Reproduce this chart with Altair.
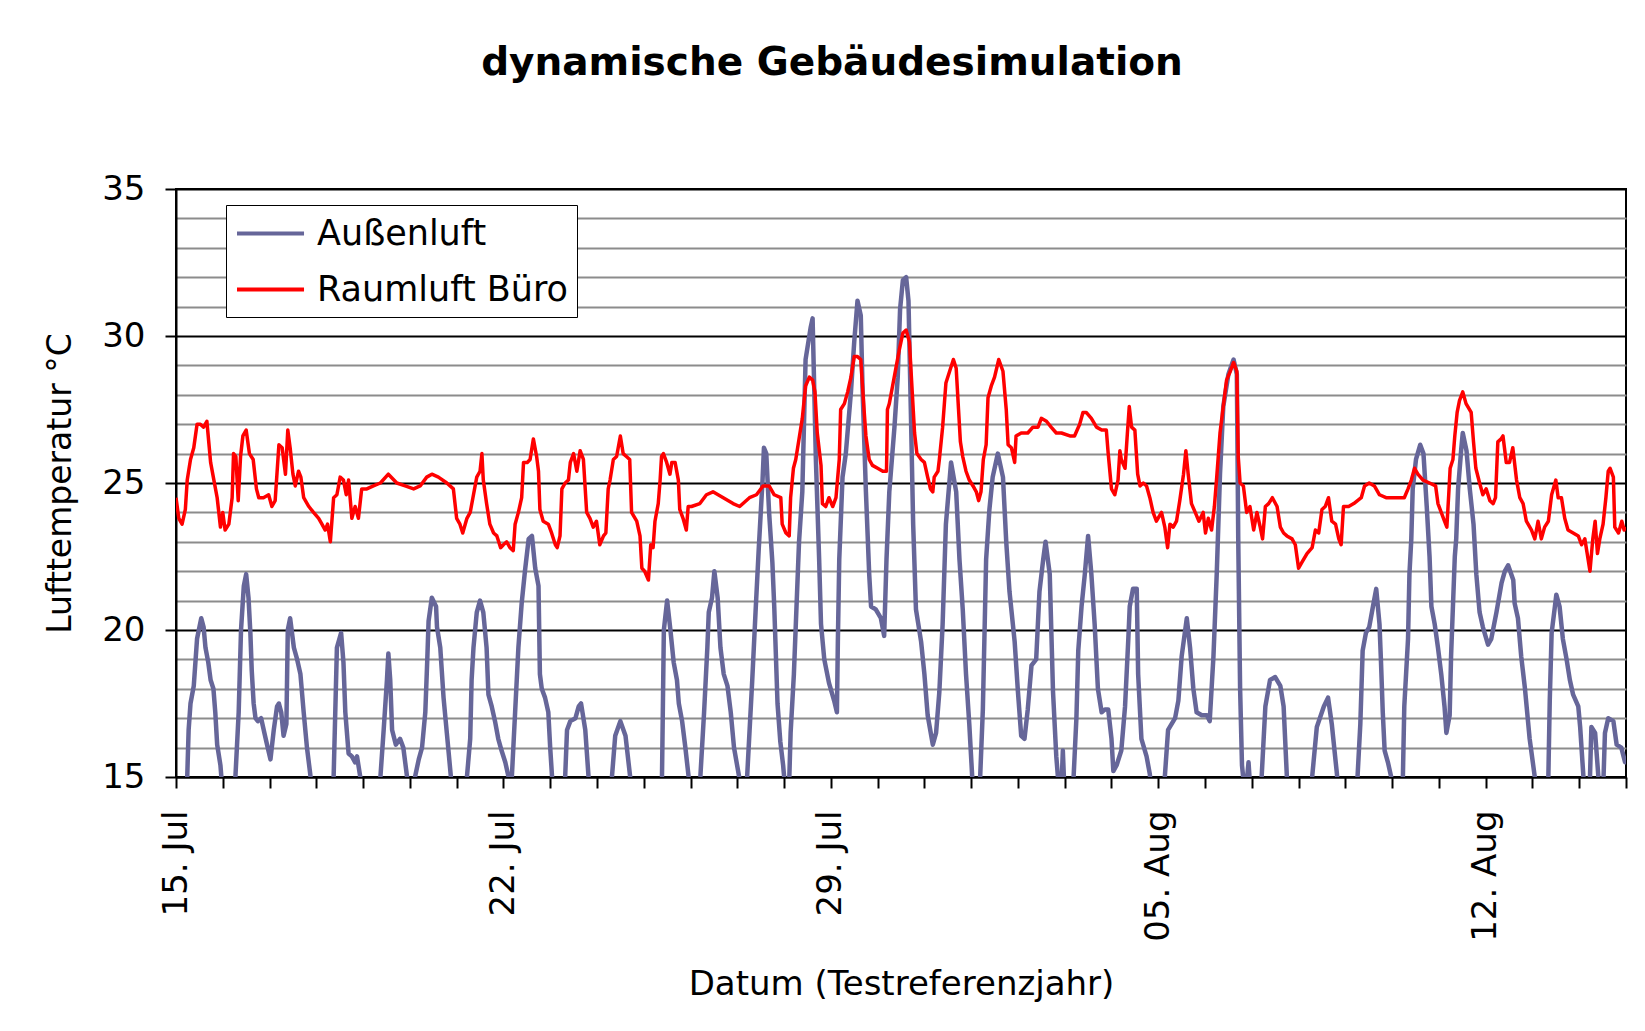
import altair as alt
import pandas as pd

TITLE = "dynamische Gebäudesimulation"
X_TITLE = "Datum (Testreferenzjahr)"
Y_TITLE = "Lufttemperatur °C"
SERIES = ["Außenluft", "Raumluft Büro"]
COLORS = ["#666699", "#ff0000"]

TICK_DAYS = [0, 7, 14, 21, 28]
TICK_LABELS = ["15. Jul", "22. Jul", "29. Jul", "05. Aug", "12. Aug"]

# Außenluft: day offset from 15 Jul 0:00, temperature in °C (values below 15 are cut by the axis)
AUSSEN_DAY = [
    0.00, 0.20, 0.24, 0.27, 0.31, 0.38, 0.45, 0.54, 0.59, 0.63, 0.69, 0.74, 0.80, 0.84, 0.88, 0.95, 0.99,
    1.10, 1.25, 1.27, 1.34, 1.39, 1.45, 1.50, 1.55, 1.59, 1.62, 1.66, 1.70, 1.75, 1.82, 1.89, 1.96, 2.02,
    2.09, 2.16, 2.20, 2.25, 2.30, 2.36, 2.39, 2.44, 2.52, 2.59, 2.66, 2.73, 2.80, 2.87, 2.92,
    3.20, 3.35, 3.37, 3.44, 3.53, 3.58, 3.62, 3.69, 3.76, 3.83, 3.87, 3.94, 3.98,
    4.20, 4.35, 4.37, 4.44, 4.51, 4.54, 4.58, 4.62, 4.70, 4.79, 4.86, 4.94, 4.98,
    5.08, 5.11, 5.19, 5.26, 5.33, 5.37, 5.40, 5.47, 5.56, 5.58, 5.65, 5.72, 5.79, 5.86, 5.90,
    6.15, 6.22, 6.29, 6.32, 6.36, 6.43, 6.50, 6.57, 6.64, 6.68, 6.75, 6.82, 6.89, 6.96, 7.04, 7.11, 7.14,
    7.16, 7.18, 7.25, 7.32, 7.39, 7.46, 7.54, 7.61, 7.68, 7.75, 7.78, 7.82, 7.89, 7.96, 8.00, 8.04, 8.07,
    8.28, 8.32, 8.36, 8.43, 8.54, 8.61, 8.66, 8.75, 8.82, 8.86,
    9.28, 9.32, 9.39, 9.50, 9.61, 9.71, 9.75,
    10.35, 10.39, 10.43, 10.50, 10.57, 10.64, 10.71, 10.75, 10.82, 10.89, 10.96, 11.00,
    11.17, 11.21, 11.29, 11.36, 11.39, 11.46, 11.51, 11.58, 11.64, 11.71, 11.79, 11.86, 11.93, 12.04, 12.08,
    12.17, 12.21, 12.32, 12.39, 12.46, 12.54, 12.57, 12.62, 12.68, 12.75, 12.79, 12.86, 12.92, 12.98, 13.04,
    13.10, 13.14, 13.21, 13.32, 13.39, 13.46, 13.57, 13.61, 13.68, 13.75, 13.79, 13.86, 13.96, 14.07, 14.13,
    14.15, 14.18, 14.25, 14.32, 14.43, 14.50, 14.57, 14.64, 14.68, 14.75, 14.82, 14.86, 14.96, 15.07, 15.14,
    15.19, 15.25, 15.36, 15.43, 15.48, 15.54, 15.61, 15.66, 15.71, 15.76, 15.82, 15.93, 16.00, 16.07, 16.18,
    16.25, 16.32, 16.39, 16.46, 16.57, 16.68, 16.75, 16.82, 16.89, 16.96, 17.04,
    17.18, 17.25, 17.32, 17.39, 17.46, 17.57, 17.68, 17.75, 17.82, 17.93, 18.00, 18.07, 18.14,
    18.21, 18.29, 18.39, 18.46, 18.54, 18.59, 18.68, 18.75, 18.82, 18.89, 18.93, 18.96, 19.00,
    19.16, 19.19, 19.25, 19.29, 19.36, 19.43, 19.50, 19.57, 19.64, 19.71, 19.79, 19.86, 19.93, 20.00, 20.04,
    20.11, 20.21, 20.29, 20.36, 20.39, 20.46, 20.54, 20.57, 20.64, 20.75, 20.82, 20.86,
    21.10, 21.14, 21.21, 21.36, 21.43, 21.50, 21.61, 21.68, 21.75, 21.82, 21.93, 22.04, 22.10,
    22.18, 22.25, 22.32, 22.39, 22.50, 22.61, 22.68, 22.71, 22.75, 22.79, 22.86, 22.93, 22.98,
    23.19, 23.21, 23.29, 23.39, 23.50, 23.61, 23.68, 23.75, 23.79,
    24.25, 24.29, 24.39, 24.54, 24.63, 24.71, 24.82, 24.86,
    25.22, 25.26, 25.32, 25.37, 25.44, 25.51, 25.59, 25.66, 25.73, 25.76, 25.80, 25.84, 25.91, 25.98, 26.02,
    26.20, 26.23, 26.26, 26.34, 26.37, 26.41, 26.44, 26.51, 26.60, 26.67, 26.74, 26.80, 26.84, 26.91, 26.98,
    27.05, 27.12, 27.16, 27.23, 27.26, 27.34, 27.37, 27.41, 27.48, 27.51, 27.59, 27.66, 27.74, 27.80, 27.87,
    27.94, 28.05, 28.12, 28.23, 28.34, 28.41, 28.48, 28.59, 28.62, 28.69, 28.76, 28.84, 28.94, 29.05, 29.09,
    29.30, 29.34, 29.37, 29.41, 29.48, 29.51, 29.58, 29.65, 29.73, 29.80, 29.87, 29.98, 30.02, 30.09, 30.12,
    30.20, 30.23, 30.26, 30.34, 30.41, 30.45, 30.50, 30.52, 30.55, 30.62, 30.73, 30.80, 30.90, 30.98, 31.00,
]
AUSSEN_TEMP = [
    14.0, 14.0, 15.0, 16.6, 17.5, 18.1, 19.7, 20.4, 20.1, 19.4, 18.9, 18.3, 18.0, 17.2, 16.1, 15.4, 14.6,
    14.0, 14.3, 15.0, 17.2, 20.0, 21.5, 21.9, 21.1, 19.9, 18.6, 17.5, 17.0, 16.9, 17.0, 16.5, 16.0, 15.6,
    16.6, 17.4, 17.5, 17.2, 16.4, 16.8, 20.0, 20.4, 19.4, 19.0, 18.5, 17.2, 16.0, 15.1, 14.2,
    14.0, 14.3, 15.0, 19.4, 19.9, 18.9, 17.2, 15.8, 15.7, 15.5, 15.7, 15.0, 14.2,
    14.0, 14.4, 15.0, 16.6, 18.3, 19.2, 18.3, 16.6, 16.1, 16.3, 16.0, 15.0, 14.5,
    14.5, 15.0, 15.6, 16.0, 17.2, 18.9, 20.3, 21.1, 20.8, 20.1, 19.4, 17.7, 16.5, 15.3, 14.6,
    14.3, 15.0, 16.3, 18.3, 19.4, 20.6, 21.0, 20.6, 19.4, 17.8, 17.4, 16.9, 16.3, 15.9, 15.5, 15.0, 14.5,
    14.5, 15.0, 17.2, 19.4, 20.9, 22.0, 23.1, 23.2, 22.1, 21.5, 18.5, 18.0, 17.7, 17.2, 16.0, 15.0, 14.3,
    14.3, 15.0, 16.6, 16.9, 17.0, 17.4, 17.5, 16.6, 15.0, 14.3,
    14.3, 15.0, 16.4, 16.9, 16.4, 15.0, 14.3,
    14.3, 15.0, 20.0, 21.0, 20.0, 18.9, 18.3, 17.5, 16.9, 16.0, 15.0, 14.3,
    14.3, 15.0, 17.2, 19.4, 20.6, 21.1, 22.0, 21.1, 19.4, 18.5, 18.1, 17.2, 16.0, 15.0, 14.3,
    14.3, 15.0, 18.3, 20.6, 22.8, 25.1, 26.2, 26.0, 24.0, 22.3, 20.8, 17.5, 16.2, 15.4, 14.3,
    14.3, 16.5, 18.5, 23.0, 24.7, 29.2, 30.3, 30.6, 25.8, 22.4, 20.2, 19.0, 18.2, 17.6, 17.2,
    19.6, 22.4, 25.2, 26.0, 28.1, 29.8, 31.2, 30.7, 28.1, 24.7, 21.9, 20.8, 20.7, 20.4, 19.8,
    22.4, 24.7, 26.9, 28.6, 30.9, 31.9, 32.0, 31.2, 27.5, 23.6, 20.7, 19.6, 18.5, 17.1, 16.1,
    16.5, 17.9, 20.2, 23.6, 25.7, 24.7, 22.4, 20.7, 18.5, 16.8, 14.5,
    14.5, 17.3, 22.4, 24.1, 25.2, 26.0, 25.2, 23.0, 21.3, 19.6, 17.9, 16.4, 16.3,
    17.3, 18.8, 19.0, 21.3, 22.4, 23.0, 21.9, 17.9, 15.7, 14.3, 14.6, 15.9, 14.3,
    14.3, 15.0, 17.0, 19.3, 20.8, 21.9, 23.2, 21.9, 20.2, 18.0, 17.2, 17.3, 17.3, 16.3, 15.2,
    15.4, 15.9, 17.4, 19.7, 20.8, 21.4, 21.4, 18.5, 16.3, 15.7, 15.1, 14.3,
    14.3, 15.0, 16.6, 17.0, 17.6, 19.1, 20.4, 19.4, 18.0, 17.2, 17.1, 17.1, 16.9,
    19.1, 21.9, 25.3, 27.6, 28.7, 29.2, 28.7, 23.1, 18.0, 15.4, 14.3, 15.5, 14.3,
    14.3, 15.0, 17.4, 18.3, 18.4, 18.1, 17.4, 15.0, 14.3,
    14.3, 15.0, 16.7, 17.4, 17.7, 16.8, 15.1, 14.3,
    14.3, 15.0, 16.8, 19.3, 19.9, 20.1, 20.8, 21.4, 20.2, 19.0, 17.2, 15.9, 15.5, 15.0, 14.3,
    14.3, 15.0, 17.4, 19.7, 21.9, 23.1, 24.8, 25.8, 26.3, 26.0, 24.2, 22.5, 20.8, 20.2, 19.4,
    18.5, 17.4, 16.5, 17.1, 19.1, 22.5, 23.1, 24.8, 26.2, 26.7, 26.1, 24.8, 23.6, 21.9, 20.6,
    20.1, 19.5, 19.7, 20.6, 21.6, 22.0, 22.2, 21.7, 20.9, 20.4, 19.1, 18.0, 16.3, 15.0, 14.3,
    14.3, 15.0, 17.6, 19.9, 20.8, 21.2, 20.8, 19.7, 19.0, 18.3, 17.8, 17.4, 16.7, 15.0, 14.3,
    14.3, 15.0, 16.7, 16.5, 15.0, 14.5, 14.5, 15.0, 16.5, 17.0, 16.9, 16.1, 16.0, 15.5, 15.5,
]

# Raumluft Büro
RAUM_DAY = [
    0.00, 0.06, 0.13, 0.20, 0.24, 0.31, 0.38, 0.45, 0.52, 0.59, 0.66, 0.74, 0.81, 0.88, 0.95, 1.00, 1.05,
    1.13, 1.20, 1.23, 1.28, 1.33, 1.38, 1.43, 1.50, 1.57, 1.65, 1.72, 1.77, 1.87, 1.98, 2.05, 2.12, 2.20,
    2.27, 2.34, 2.39, 2.44, 2.50, 2.55, 2.62, 2.67, 2.73, 2.84, 2.94, 3.05, 3.12, 3.19, 3.24, 3.30, 3.37,
    3.44, 3.51, 3.58, 3.64, 3.69, 3.76, 3.83, 3.90, 3.97, 4.08, 4.22, 4.37, 4.54, 4.72, 4.90, 5.08, 5.22,
    5.36, 5.47, 5.61, 5.79, 5.93, 6.00, 6.07, 6.13, 6.22, 6.29, 6.36, 6.43, 6.50, 6.54, 6.57, 6.64, 6.71,
    6.79, 6.86, 6.94, 7.00, 7.07, 7.14, 7.21, 7.25, 7.32, 7.39, 7.43, 7.51, 7.57, 7.64, 7.71, 7.75, 7.78,
    7.85, 7.96, 8.03, 8.11, 8.15, 8.21, 8.25, 8.32, 8.39, 8.43, 8.50, 8.57, 8.64, 8.71, 8.78, 8.85, 8.92,
    8.99, 9.06, 9.14, 9.19, 9.24, 9.28, 9.35, 9.42, 9.50, 9.56, 9.63, 9.70, 9.74, 9.85, 9.92, 9.96, 10.02,
    10.10, 10.15, 10.20, 10.24, 10.31, 10.35, 10.38, 10.42, 10.49, 10.56, 10.60, 10.67, 10.74, 10.77, 10.84,
    10.91, 10.95, 11.02, 11.20, 11.34, 11.48, 11.70, 11.91, 12.05, 12.26, 12.41, 12.55, 12.68, 12.79, 12.93,
    12.96, 13.04, 13.11, 13.14, 13.20, 13.25, 13.32, 13.39, 13.46, 13.54, 13.61, 13.66, 13.71, 13.79, 13.82,
    13.89, 13.96, 14.04, 14.11, 14.18, 14.21, 14.29, 14.36, 14.43, 14.50, 14.57, 14.64, 14.71, 14.75, 14.82,
    14.89, 15.00, 15.11, 15.19, 15.21, 15.25, 15.32, 15.39, 15.46, 15.54, 15.61, 15.68, 15.74, 15.79, 15.84,
    15.93, 16.00, 16.07, 16.13, 16.18, 16.21, 16.29, 16.32, 16.39, 16.46, 16.54, 16.62, 16.68, 16.73, 16.77,
    16.82, 16.89, 16.96, 17.04, 17.11, 17.16, 17.21, 17.26, 17.32, 17.36, 17.43, 17.50, 17.59, 17.68, 17.75,
    17.79, 17.86, 17.93, 17.96, 18.07, 18.21, 18.32, 18.43, 18.50, 18.61, 18.71, 18.82, 18.93, 19.11, 19.21,
    19.32, 19.39, 19.46, 19.57, 19.68, 19.79, 19.89, 19.93, 20.00, 20.07, 20.14, 20.18, 20.21, 20.29, 20.34,
    20.38, 20.43, 20.50, 20.56, 20.61, 20.68, 20.75, 20.82, 20.89, 20.96, 21.07, 21.14, 21.20, 21.25, 21.32,
    21.39, 21.46, 21.54, 21.59, 21.64, 21.71, 21.79, 21.87, 21.96, 22.01, 22.07, 22.14, 22.20, 22.25, 22.32,
    22.39, 22.46, 22.54, 22.61, 22.68, 22.71, 22.75, 22.82, 22.89, 22.96, 23.04, 23.11, 23.18, 23.23, 23.29,
    23.36, 23.44, 23.54, 23.61, 23.68, 23.75, 23.86, 23.93, 24.00, 24.07, 24.18, 24.29, 24.36, 24.43, 24.50,
    24.57, 24.64, 24.71, 24.79, 24.86, 24.91, 24.96, 25.07, 25.18, 25.34, 25.41, 25.51, 25.62, 25.73, 25.87,
    26.01, 26.16, 26.26, 26.34, 26.41, 26.48, 26.55, 26.66, 26.80, 26.93, 26.98, 27.05, 27.12, 27.17, 27.21,
    27.24, 27.30, 27.34, 27.39, 27.44, 27.51, 27.58, 27.69, 27.74, 27.79, 27.87, 27.94, 28.01, 28.09, 28.16,
    28.21, 28.26, 28.33, 28.37, 28.44, 28.51, 28.58, 28.66, 28.73, 28.80, 28.87, 28.98, 29.05, 29.12, 29.19,
    29.26, 29.34, 29.41, 29.50, 29.55, 29.62, 29.69, 29.76, 29.87, 29.98, 30.05, 30.12, 30.17, 30.23, 30.29,
    30.34, 30.39, 30.44, 30.51, 30.57, 30.62, 30.66, 30.73, 30.76, 30.84, 30.91, 30.96, 31.00,
]
RAUM_TEMP = [
    24.5, 23.8, 23.6, 24.1, 25.1, 25.8, 26.2, 27.0, 27.0, 26.9, 27.1, 25.7, 25.1, 24.5, 23.5, 24.0, 23.4,
    23.6, 24.5, 26.0, 25.9, 24.4, 25.9, 26.6, 26.8, 26.0, 25.8, 24.8, 24.5, 24.5, 24.6, 24.2, 24.4, 26.3,
    26.2, 25.3, 26.8, 26.2, 25.3, 24.9, 25.4, 25.2, 24.5, 24.2, 24.0, 23.8, 23.6, 23.4, 23.6, 23.0, 24.5,
    24.6, 25.2, 25.1, 24.6, 25.1, 23.8, 24.2, 23.8, 24.8, 24.8, 24.9, 25.0, 25.3, 25.0, 24.9, 24.8, 24.9,
    25.2, 25.3, 25.2, 25.0, 24.8, 23.8, 23.6, 23.3, 23.8, 24.0, 24.6, 25.2, 25.4, 26.0, 25.1, 24.3, 23.6,
    23.3, 23.2, 22.8, 22.9, 23.0, 22.8, 22.7, 23.6, 24.0, 24.5, 25.7, 25.7, 25.8, 26.5, 25.9, 25.4, 24.1,
    23.7, 23.6, 23.3, 22.9, 22.8, 23.2, 24.8, 25.0, 25.1, 25.7, 26.0, 25.4, 26.1, 25.8, 24.0, 23.8, 23.5,
    23.7, 22.9, 23.2, 23.3, 24.8, 25.1, 25.8, 25.9, 26.6, 26.0, 25.9, 25.8, 24.0, 23.7, 23.2, 22.1, 22.0,
    21.7, 22.9, 22.8, 23.7, 24.3, 25.1, 25.9, 26.0, 25.7, 25.3, 25.7, 25.7, 25.1, 24.1, 23.8,
    23.4, 24.2, 24.2, 24.3, 24.6, 24.7, 24.5, 24.3, 24.2, 24.5, 24.6, 24.9, 24.9, 24.6, 24.5,
    23.6, 23.3, 23.2, 24.5, 25.5, 25.8, 26.5, 27.2, 28.3, 28.6, 28.5, 28.1, 26.7, 25.6, 24.3,
    24.2, 24.5, 24.2, 24.5, 25.8, 27.5, 27.7, 28.1, 28.6, 29.3, 29.3, 29.2, 27.5, 26.6, 25.8,
    25.6, 25.5, 25.4, 25.4, 27.5, 27.7, 28.3, 28.9, 29.5, 30.1, 30.2, 29.8, 28.1, 26.7, 26.0,
    25.8, 25.7, 25.2, 24.8, 24.7, 25.2, 25.4, 25.8, 26.9, 28.4, 28.8, 29.2, 28.9, 27.5, 26.4,
    25.9, 25.4, 25.1, 24.9, 24.7, 24.4, 24.7, 25.8, 26.3, 27.9, 28.3, 28.6, 29.2, 28.8, 27.5,
    26.3, 26.2, 25.7, 26.6, 26.7, 26.7, 26.9, 26.9, 27.2, 27.1, 26.9, 26.7, 26.7, 26.6, 26.6,
    27.0, 27.4, 27.4, 27.2, 26.9, 26.8, 26.8, 26.0, 24.8, 24.6, 25.1, 26.1, 25.8, 25.5, 26.7,
    27.6, 26.9, 26.8, 25.3, 24.9, 25.0, 24.9, 24.5, 24.0, 23.7, 24.0, 23.5, 22.8, 23.6, 23.5,
    23.7, 24.4, 25.3, 26.1, 25.3, 24.3, 24.0, 23.7, 24.0, 23.3, 23.8, 23.4, 24.2, 25.2, 26.7,
    27.6, 28.5, 28.8, 29.1, 28.8, 25.9, 25.0, 24.9, 24.0, 24.2, 23.4, 24.0, 23.5, 23.1, 24.2,
    24.3, 24.5, 24.2, 23.5, 23.3, 23.2, 23.1, 22.9, 22.1, 22.3, 22.6, 22.8, 23.4, 23.3, 24.1,
    24.2, 24.5, 23.7, 23.6, 23.1, 22.9, 24.2, 24.2, 24.3, 24.5, 24.9, 25.0, 24.9, 24.6, 24.5,
    24.5, 24.5, 24.5, 24.8, 25.1, 25.5, 25.3, 25.1, 25.0, 24.9, 24.3, 24.0, 23.7, 23.5, 24.6,
    25.5, 25.8, 26.6, 27.4, 27.8, 28.1, 27.7, 27.4, 26.4, 25.5, 25.0, 24.6, 24.8, 24.4, 24.3,
    24.5, 26.4, 26.5, 26.6, 25.7, 25.7, 26.2, 25.1, 24.5, 24.3, 23.7, 23.4, 23.1, 23.7, 23.1,
    23.5, 23.7, 24.6, 25.1, 24.5, 24.5, 23.8, 23.4, 23.3, 23.2, 22.9, 23.1, 22.6, 22.0, 23.1,
    23.7, 22.6, 23.1, 23.6, 24.5, 25.4, 25.5, 25.2, 23.5, 23.3, 23.7, 23.4, 23.5,
]

df = pd.concat([
    pd.DataFrame({"tag": AUSSEN_DAY, "temp": AUSSEN_TEMP, "reihe": SERIES[0]}),
    pd.DataFrame({"tag": RAUM_DAY, "temp": RAUM_TEMP, "reihe": SERIES[1]}),
], ignore_index=True)

FONT = "DejaVu Sans"

label_expr = "''"
for d, lab in reversed(list(zip(TICK_DAYS, TICK_LABELS))):
    label_expr = f"datum.value == {d} ? '{lab}' : ({label_expr})"

x_enc = alt.X(
    "tag:Q",
    scale=alt.Scale(domain=[0, 31], nice=False, zero=False),
    axis=alt.Axis(
        title=X_TITLE,
        values=list(range(0, 32)),
        labelExpr=label_expr,
        labelAngle=270,
        labelAlign="right",
        labelBaseline="middle",
        labelFontSize=34,
        labelFont=FONT,
        labelColor="black",
        labelPadding=22,
        labelOverlap=False,
        labelFlush=False,
        tickSize=11,
        tickWidth=2,
        tickColor="black",
        domainColor="black",
        domainWidth=2,
        grid=False,
        titleFont=FONT,
        titleFontSize=34,
        titleFontWeight="normal",
        titleColor="black",
        titlePadding=26,
    ),
)

y_enc = alt.Y(
    "temp:Q",
    scale=alt.Scale(domain=[15, 35], nice=False, zero=False),
    axis=alt.Axis(
        title=Y_TITLE,
        values=list(range(15, 36)),
        labelExpr="datum.value % 5 == 0 ? datum.label : ''",
        labelFontSize=34,
        labelFont=FONT,
        labelColor="black",
        labelPadding=20,
        tickSize=11,
        tickWidth=2,
        tickColor="black",
        tickOpacity=alt.condition("datum.value % 5 == 0", alt.value(1), alt.value(0)),
        domainColor="black",
        domainWidth=2,
        grid=True,
        gridColor=alt.condition("datum.value % 5 == 0", alt.value("black"), alt.value("#8c8c8c")),
        gridWidth=2,
        titleFont=FONT,
        titleFontSize=33,
        titleFontWeight="normal",
        titleColor="black",
        titlePadding=24,
    ),
)

color_enc = alt.Color(
    "reihe:N",
    scale=alt.Scale(domain=SERIES, range=COLORS),
    legend=alt.Legend(
        title=None,
        orient="none",
        legendX=50,
        legendY=16,
        direction="vertical",
        fillColor="white",
        strokeColor="black",
        padding=9,
        symbolType="M-1,0H2.83",
        symbolSize=1225,
        symbolStrokeWidth=4,
        symbolFillColor="transparent",
        labelOffset=43,
        labelFontSize=35,
        labelFont=FONT,
        labelColor="black",
        labelLimit=0,
        rowPadding=18,
    ),
)

base = alt.Chart(df).encode(x=x_enc, y=y_enc, color=color_enc)

aussen = base.transform_filter(alt.datum.reihe == SERIES[0]).mark_line(
    clip=True, strokeWidth=4.5, strokeJoin="round"
)
raum = base.transform_filter(alt.datum.reihe == SERIES[1]).mark_line(
    clip=True, strokeWidth=3.5, strokeJoin="round"
)

chart = (
    alt.layer(aussen, raum)
    .properties(
        width=1450,
        height=588,
        autosize=alt.AutoSizeParams(type="none"),
        padding={"left": 168, "top": 181, "right": 10, "bottom": 230},
        title=alt.TitleParams(
            text=TITLE,
            font=FONT,
            fontSize=39,
            fontWeight="bold",
            color="black",
            anchor="middle",
            frame="group",
            dx=-69,
            baseline="alphabetic",
            offset=58,
        ),
        background="white",
    )
    .configure_view(stroke="black", strokeWidth=2)
)

chart.save("out.html", embed_options={"renderer": "svg", "actions": False})
